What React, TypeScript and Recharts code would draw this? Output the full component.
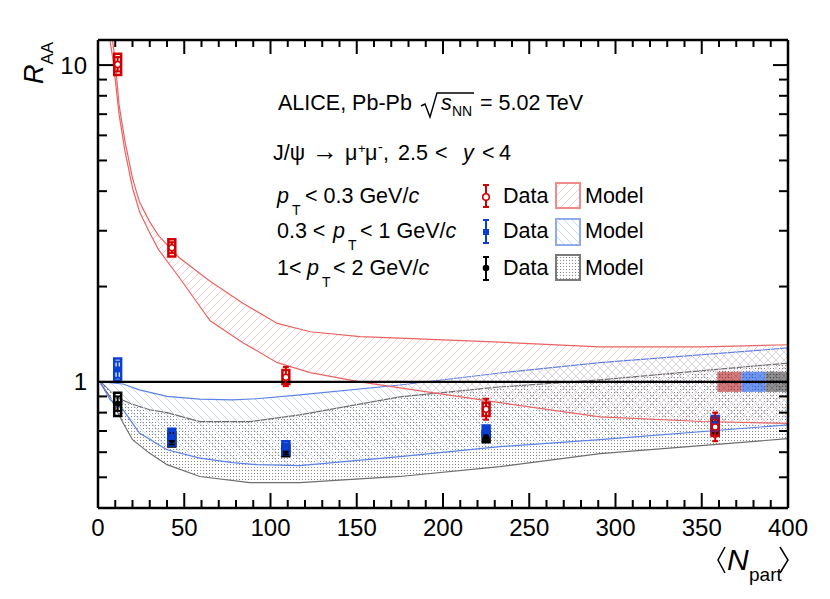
import React from 'react';
import {
  ComposedChart,
  Area,
  Scatter,
  XAxis,
  YAxis,
  ReferenceLine,
  ReferenceArea,
  ErrorBar,
} from 'recharts';

const W = 814;
const H = 583;
const FONT = '"Liberation Sans", Arial, Helvetica, sans-serif';

// ---------- axes ----------
const xTicks = [0, 10, 20, 30, 40, 50, 60, 70, 80, 90, 100, 110, 120, 130, 140, 150, 160, 170, 180, 190, 200,
  210, 220, 230, 240, 250, 260, 270, 280, 290, 300, 310, 320, 330, 340, 350, 360, 370, 380, 390, 400];
const xLabelTicks = [0, 50, 100, 150, 200, 250, 300, 350, 400];
const yTicks = [0.5, 0.6, 0.7, 0.8, 0.9, 1, 2, 3, 4, 5, 6, 7, 8, 9, 10];
const yLabelTicks = [1, 10];
const xDomain = [0, 400];
const yDomain = [0.4, 12];

// ---------- model bands ----------
const redModelN = [7, 8.5, 10, 12.2, 15.5, 20, 24, 30, 35, 47, 65, 84, 104, 123, 152, 175, 233, 291, 350, 400];
const redModelHigh = [14.0, 11.9, 10.2, 7.5, 5.8, 4.4, 3.7, 3.2, 2.9, 2.47, 2.08, 1.77, 1.53, 1.44, 1.39, 1.375, 1.335, 1.29, 1.29, 1.31];
const redModelLow = [11.9, 10.6, 9.0, 7.0, 5.4, 4.1, 3.45, 2.95, 2.62, 2.14, 1.56, 1.33, 1.15, 1.07, 1.0, 0.957, 0.86, 0.776, 0.75, 0.74];

const blueModelN = [1.5, 7, 14.5, 24, 40, 59, 78, 92, 117, 175, 233, 291, 400];
const blueModelHigh = [1.0, 0.995, 0.985, 0.944, 0.9, 0.882, 0.878, 0.885, 0.91, 0.978, 1.067, 1.15, 1.28];
const blueModelLow = [0.99, 0.88, 0.817, 0.69, 0.611, 0.575, 0.556, 0.548, 0.544, 0.581, 0.625, 0.657, 0.732];

const grayModelN = [1.5, 7, 11, 14.5, 20, 30, 40, 59, 88, 117, 175, 233, 291, 400];
const grayModelHigh = [1.0, 0.94, 0.897, 0.875, 0.85, 0.817, 0.8, 0.749, 0.749, 0.787, 0.897, 0.964, 1.015, 1.147];
const grayModelLow = [0.99, 0.897, 0.81, 0.743, 0.657, 0.595, 0.548, 0.503, 0.481, 0.481, 0.503, 0.54, 0.594, 0.662];

// ---------- data ----------
const nPart = [11.4, 42.8, 108.9, 225, 357.8];

const redVal = [10.05, 2.65, 1.035, 0.82, 0.72];
const redStatLo = [9.55, 2.55, 0.97, 0.76, 0.65];
const redStatHi = [10.6, 2.76, 1.115, 0.885, 0.8];
const redSysLo = [9.3, 2.49, 0.985, 0.78, 0.675];
const redSysHi = [10.85, 2.82, 1.09, 0.86, 0.77];

const blueVal = [1.095, 0.67, 0.62, 0.7, 0.735];
const blueStatLo = [1.03, 0.645, 0.6, 0.68, 0.7];
const blueStatHi = [1.16, 0.7, 0.64, 0.72, 0.77];
const blueSysLo = [1.01, 0.63, 0.59, 0.673, 0.69];
const blueSysHi = [1.185, 0.712, 0.65, 0.728, 0.78];

const blackVal = [0.853, 0.655, 0.605, 0.67, 0.72];
const blackStatLo = [0.81, 0.635, 0.59, 0.655, 0.69];
const blackStatHi = [0.9, 0.675, 0.62, 0.685, 0.75];
const blackSysLo = [0.78, 0.625, 0.583, 0.645, 0.68];
const blackSysHi = [0.925, 0.69, 0.63, 0.7, 0.765];

// normalisation uncertainty boxes at unity (red, blue, black)
const normEdges = [359, 373, 387, 400];
const normLo = [0.93, 0.93, 0.93];
const normHi = [1.077, 1.077, 1.077];

// ---------- styles ----------
const RED = '#d10000';
const BLUE = '#0b3fd1';
const BLACK = '#000000';
const RED_MODEL = '#e86464';
const BLUE_MODEL = '#5b82e6';
const GRAY_MODEL = '#6e6e6e';
const BOX_HALF = 2.0;

const band = (n: number[], lo: number[], hi: number[]) =>
  n.map((x, i) => ({ n: x, band: [lo[i], hi[i]] }));
const points = (v: number[], lo: number[], hi: number[]) =>
  nPart.map((x, i) => ({ n: x, v: v[i], err: [v[i] - lo[i], hi[i] - v[i]] }));

const redBand = band(redModelN, redModelLow, redModelHigh);
const blueBand = band(blueModelN, blueModelLow, blueModelHigh);
const grayBand = band(grayModelN, grayModelLow, grayModelHigh);
const redPts = points(redVal, redStatLo, redStatHi);
const bluePts = points(blueVal, blueStatLo, blueStatHi);
const blackPts = points(blackVal, blackStatLo, blackStatHi);

// ---------- ticks ----------
const XTickBottom = (props: any) => {
  const { x, y, payload } = props;
  const v = payload.value;
  const major = xLabelTicks.includes(v);
  const len = major ? 15 : 8;
  return (
    <g>
      <line x1={x} x2={x} y1={y} y2={y - len} stroke="#000" strokeWidth={2} />
      {major && (
        <text x={x} y={y + 28} textAnchor="middle" fontSize={24} fontFamily={FONT} fill="#000">
          {v}
        </text>
      )}
    </g>
  );
};
const XTickTop = (props: any) => {
  const { x, y, payload } = props;
  const major = xLabelTicks.includes(payload.value);
  const len = major ? 14 : 7;
  return <line x1={x} x2={x} y1={y} y2={y + len} stroke="#000" strokeWidth={2} />;
};
const YTickLeft = (props: any) => {
  const { x, y, payload } = props;
  const v = payload.value;
  const major = yLabelTicks.includes(v);
  const len = major ? 15 : 9;
  return (
    <g>
      <line x1={x} x2={x + len} y1={y} y2={y} stroke="#000" strokeWidth={2} />
      {major && (
        <text x={x - 11} y={y + 8.5} textAnchor="end" fontSize={24} fontFamily={FONT} fill="#000">
          {v}
        </text>
      )}
    </g>
  );
};
const YTickRight = (props: any) => {
  const { x, y, payload } = props;
  const major = yLabelTicks.includes(payload.value);
  const len = major ? 15 : 9;
  return <line x1={x} x2={x - len} y1={y} y2={y} stroke="#000" strokeWidth={2} />;
};

const Defs = () => (
  <svg width={0} height={0} style={{ position: 'absolute' }}>
    <defs>
      <pattern id="hatchRed" patternUnits="userSpaceOnUse" width={8} height={8}>
        <path d="M-2,2 l4,-4 M0,8 l8,-8 M6,10 l4,-4" stroke="#f7cccc" strokeWidth={1} />
      </pattern>
      <pattern id="hatchBlue" patternUnits="userSpaceOnUse" width={8} height={8}>
        <path d="M-2,6 l4,4 M0,0 l8,8 M6,-2 l4,4" stroke="#cbd6f5" strokeWidth={1} />
      </pattern>
      <pattern id="dotsGray" patternUnits="userSpaceOnUse" width={3} height={3}>
        <rect x={0} y={0} width={1} height={1} fill="#8a8a8a" />
      </pattern>
    </defs>
  </svg>
);

const Overlay = () => (
  <svg
    width={W}
    height={H}
    style={{ position: 'absolute', left: 0, top: 0, pointerEvents: 'none' }}
    fontFamily={FONT}
    fill="#000"
  >
    {/* header */}
    <text x={270} y={102} fontSize={21.5}>ALICE, Pb-Pb</text>
    <polyline points="413,98 417,96 422,109 429,85 466,85" fill="none" stroke="#000" strokeWidth={1.4} />
    <text x={433} y={102} fontSize={21.5} fontStyle="italic">s</text>
    <text x={444} y={108} fontSize={14}>NN</text>
    <text x={472} y={102} fontSize={21.5}>= 5.02 TeV</text>

    <text x={265} y={152} fontSize={21.5}>J/ψ</text>
    <text x={304} y={152} fontSize={26}>→</text>
    <text x={337} y={152} fontSize={21.5}>μ</text>
    <text x={350} y={145} fontSize={13}>+</text>
    <text x={357} y={152} fontSize={21.5}>μ</text>
    <text x={370} y={144} fontSize={14}>-</text>
    <text x={375} y={152} fontSize={21.5}>,</text>
    <text x={390} y={152} fontSize={21.5}>2.5</text>
    <text x={427} y={152} fontSize={21.5}>&lt;</text>
    <text x={455} y={152} fontSize={21.5} fontStyle="italic">y</text>
    <text x={474} y={152} fontSize={21.5}>&lt;</text>
    <text x={491} y={152} fontSize={21.5}>4</text>

    {/* legend rows */}
    <text x={269} y={195} fontSize={21.5} fontStyle="italic">p</text>
    <text x={284} y={207} fontSize={14}>T</text>
    <text x={297} y={195} fontSize={21.5}>&lt; 0.3 GeV/<tspan fontStyle="italic">c</tspan></text>

    <text x={269} y={230} fontSize={21.5}>0.3 &lt;</text>
    <text x={325} y={230} fontSize={21.5} fontStyle="italic">p</text>
    <text x={340} y={242} fontSize={14}>T</text>
    <text x={352} y={230} fontSize={21.5}>&lt; 1 GeV/<tspan fontStyle="italic">c</tspan></text>

    <text x={269} y={267} fontSize={21.5}>1&lt;</text>
    <text x={299} y={267} fontSize={21.5} fontStyle="italic">p</text>
    <text x={314} y={279} fontSize={14}>T</text>
    <text x={325} y={267} fontSize={21.5}>&lt; 2 GeV/<tspan fontStyle="italic">c</tspan></text>

    {/* data markers */}
    <g stroke={RED} strokeWidth={2}>
      <line x1={478} x2={478} y1={177} y2={199} />
      <line x1={475} x2={481} y1={177} y2={177} />
      <line x1={475} x2={481} y1={199} y2={199} />
      <circle cx={478} cy={189} r={3.3} fill="#fff" strokeWidth={1.6} />
    </g>
    <g stroke={BLUE} strokeWidth={2}>
      <line x1={478} x2={478} y1={212} y2={235} />
      <line x1={475} x2={481} y1={212} y2={212} />
      <line x1={475} x2={481} y1={235} y2={235} />
      <rect x={475} y={221} width={6} height={6} fill={BLUE} stroke="none" />
    </g>
    <g stroke={BLACK} strokeWidth={2}>
      <line x1={478} x2={478} y1={249} y2={272} />
      <line x1={475} x2={481} y1={249} y2={249} />
      <line x1={475} x2={481} y1={272} y2={272} />
      <circle cx={478} cy={260} r={3.3} fill={BLACK} stroke="none" />
    </g>
    <text x={495} y={195} fontSize={21.5}>Data</text>
    <text x={495} y={230} fontSize={21.5}>Data</text>
    <text x={495} y={267} fontSize={21.5}>Data</text>

    {/* model boxes */}
    <rect x={548} y={175} width={24} height={25} fill="url(#hatchRed)" stroke="#ee8c8c" strokeWidth={2} />
    <rect x={548} y={211} width={24} height={26} fill="url(#hatchBlue)" stroke="#8eaaf0" strokeWidth={2} />
    <rect x={548} y={247} width={24} height={25} fill="url(#dotsGray)" stroke="#7a7a7a" strokeWidth={2} />
    <text x={577} y={195} fontSize={21.5}>Model</text>
    <text x={577} y={230} fontSize={21.5}>Model</text>
    <text x={577} y={267} fontSize={21.5}>Model</text>

    {/* y title */}
    <text transform="rotate(-90 35 76)" x={35} y={76}>
      <tspan fontSize={27} fontStyle="italic">R</tspan>
      <tspan fontSize={17} dy={10}>AA</tspan>
    </text>

    {/* x title */}
    <polyline points="717,539 710,552 717,565" fill="none" stroke="#000" strokeWidth={1.5} />
    <text x={719} y={562} fontSize={30} fontStyle="italic">N</text>
    <text x={741} y={573} fontSize={19}>part</text>
    <polyline points="772,539 780,552 772,565" fill="none" stroke="#000" strokeWidth={1.5} />
  </svg>
);

const marker = (kind: string) => (p: any) => {
  if (p.cx == null || p.cy == null) return <g />;
  if (kind === 'red')
    return <circle cx={p.cx} cy={p.cy} r={3} fill="#fff" stroke={RED} strokeWidth={1.5} />;
  if (kind === 'blue') return <rect x={p.cx - 3} y={p.cy - 3} width={6} height={6} fill={BLUE} />;
  return <circle cx={p.cx} cy={p.cy} r={3} fill={BLACK} />;
};

const sysBoxes = (lo: number[], hi: number[], color: string, key: string) =>
  nPart.map((x, i) => (
    <ReferenceArea
      key={`${key}${i}`}
      x1={x - BOX_HALF}
      x2={x + BOX_HALF}
      y1={lo[i]}
      y2={hi[i]}
      fill="none"
      fillOpacity={0}
      stroke={color}
      strokeWidth={2.5}
      strokeOpacity={1}
      ifOverflow="visible"
    />
  ));

export default function App() {
  return (
    <div style={{ position: 'relative', width: W, height: H, background: '#fff' }}>
      <Defs />
      <ComposedChart width={W} height={H} margin={{ top: 31, right: 33, bottom: 82, left: 89 }}>
        <XAxis
          dataKey="n"
          type="number"
          domain={xDomain}
          allowDataOverflow
          ticks={xTicks}
          interval={0}
          tick={XTickBottom}
          tickLine={false}
          tickSize={0}
          tickMargin={0}
          height={1}
          axisLine={{ stroke: '#000', strokeWidth: 2.5 }}
        />
        <XAxis
          xAxisId="top"
          orientation="top"
          dataKey="n"
          type="number"
          domain={xDomain}
          allowDataOverflow
          ticks={xTicks}
          interval={0}
          tick={XTickTop}
          tickLine={false}
          tickSize={0}
          tickMargin={0}
          height={1}
          axisLine={{ stroke: '#000', strokeWidth: 2.5 }}
        />
        <YAxis
          type="number"
          scale="log"
          domain={yDomain}
          allowDataOverflow
          ticks={yTicks}
          interval={0}
          tick={YTickLeft}
          tickLine={false}
          tickSize={0}
          tickMargin={0}
          width={1}
          axisLine={{ stroke: '#000', strokeWidth: 2.5 }}
        />
        <YAxis
          yAxisId="right"
          orientation="right"
          type="number"
          scale="log"
          domain={yDomain}
          allowDataOverflow
          ticks={yTicks}
          interval={0}
          tick={YTickRight}
          tickLine={false}
          tickSize={0}
          tickMargin={0}
          width={1}
          axisLine={{ stroke: '#000', strokeWidth: 2.5 }}
        />

        <Area data={grayBand} dataKey="band" type="linear" fill="url(#dotsGray)" fillOpacity={1}
          stroke={GRAY_MODEL} strokeWidth={1.2} isAnimationActive={false} dot={false} activeDot={false} />
        <Area data={blueBand} dataKey="band" type="linear" fill="url(#hatchBlue)" fillOpacity={1}
          stroke={BLUE_MODEL} strokeWidth={1.2} isAnimationActive={false} dot={false} activeDot={false} />
        <Area data={redBand} dataKey="band" type="linear" fill="url(#hatchRed)" fillOpacity={1}
          stroke={RED_MODEL} strokeWidth={1.2} isAnimationActive={false} dot={false} activeDot={false} />

        <ReferenceLine y={1} stroke="#000" strokeWidth={2.2} ifOverflow="visible" />

        <ReferenceArea x1={normEdges[0]} x2={normEdges[1]} y1={normLo[0]} y2={normHi[0]} fill="#aa0000" fillOpacity={0.52} stroke="none" />
        <ReferenceArea x1={normEdges[1]} x2={normEdges[2]} y1={normLo[1]} y2={normHi[1]} fill="#0048e5" fillOpacity={0.56} stroke="none" />
        <ReferenceArea x1={normEdges[2]} x2={normEdges[3]} y1={normLo[2]} y2={normHi[2]} fill="#000000" fillOpacity={0.44} stroke="none" />

        {sysBoxes(blackSysLo, blackSysHi, BLACK, 'k')}
        <Scatter data={blackPts} dataKey="v" isAnimationActive={false} shape={marker('black')}>
          <ErrorBar dataKey="err" direction="y" width={3} stroke={BLACK} strokeWidth={2} isAnimationActive={false} />
        </Scatter>
        {sysBoxes(blueSysLo, blueSysHi, BLUE, 'b')}
        <Scatter data={bluePts} dataKey="v" isAnimationActive={false} shape={marker('blue')}>
          <ErrorBar dataKey="err" direction="y" width={3} stroke={BLUE} strokeWidth={2} isAnimationActive={false} />
        </Scatter>
        {sysBoxes(redSysLo, redSysHi, RED, 'r')}
        <Scatter data={redPts} dataKey="v" isAnimationActive={false} shape={marker('red')}>
          <ErrorBar dataKey="err" direction="y" width={3} stroke={RED} strokeWidth={2} isAnimationActive={false} />
        </Scatter>
      </ComposedChart>
      <Overlay />
    </div>
  );
}
